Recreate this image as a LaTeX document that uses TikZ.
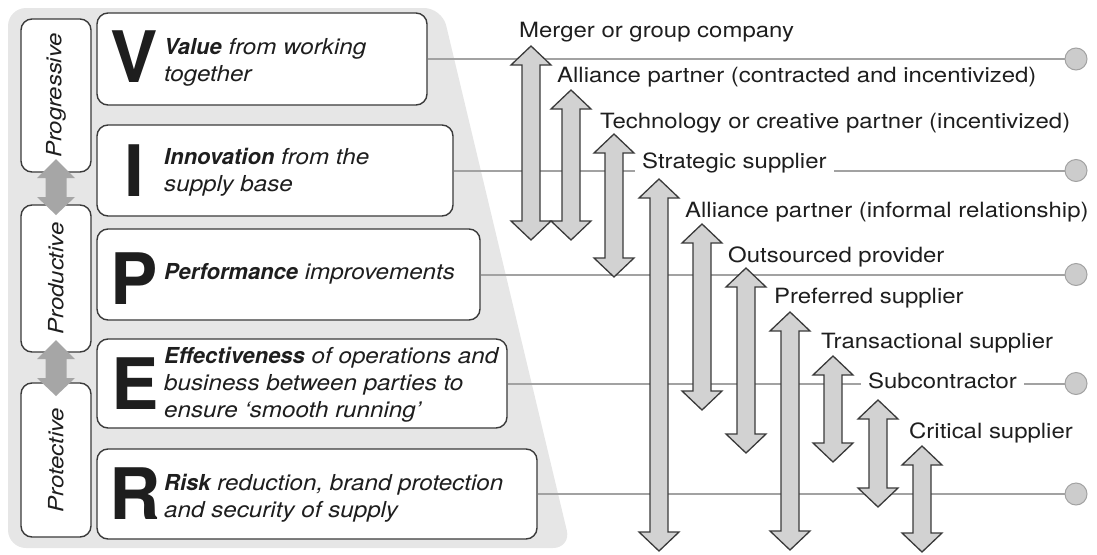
\documentclass[tikz,border=0pt]{standalone}
\usepackage{fontspec}
\setmainfont{TeX Gyre Heros}[FakeStretch=1.14]
\newfontfamily\capfont{TeX Gyre Heros}
\newfontfamily\descfont{TeX Gyre Heros}[FakeStretch=1.1]
\newcommand\kw[1]{{\capfont\bfseries #1}}
\definecolor{panel}{HTML}{E6E6E6}
\definecolor{ink}{HTML}{1E1E1E}
\definecolor{edge}{HTML}{3A3A3A}
\definecolor{linkgray}{HTML}{A2A2A2}
\definecolor{shaftgray}{HTML}{D2D2D2}
\definecolor{swapgray}{HTML}{A6A6A6}
\definecolor{dotgray}{HTML}{CCCCCC}

% vertical double arrow: x, top tip, bottom tip
\newcommand\rangearrow[3]{%
  \draw[rangearr] (#1-20,#2+19) -- (#1,#2) -- (#1+20,#2+19) -- (#1+9,#2+19)
    -- (#1+9,#3-19) -- (#1+20,#3-19) -- (#1,#3) -- (#1-20,#3-19)
    -- (#1-9,#3-19) -- (#1-9,#2+19) -- cycle;}
% thick grey swap arrow between the side labels
\newcommand\swaparrow[3]{%
  \fill[swapgray] (#1-19,#2+19) -- (#1,#2) -- (#1+19,#2+19) -- (#1+10.5,#2+19)
    -- (#1+10.5,#3-18) -- (#1+19,#3-18) -- (#1,#3) -- (#1-19,#3-18)
    -- (#1-10.5,#3-18) -- (#1-10.5,#2+19) -- cycle;}

\begin{document}
\begin{tikzpicture}[x=1pt,y=-1pt,
  panelbox/.style={draw=edge, line width=1.4, fill=white, rounded corners=11, inner sep=0},
  sidebox/.style={draw=edge, line width=1.4, fill=white, rounded corners=11, inner sep=0,
    minimum width=70},
  bigletter/.style={text=ink, inner sep=0, font=\capfont\bfseries\fontsize{71}{71}\selectfont},
  desc/.style={text=ink, inner sep=0, anchor=west, align=left,
    font=\descfont\itshape\fontsize{22}{27}\selectfont},
  sidetext/.style={text=ink, inner sep=0, rotate=90, font=\itshape\fontsize{21}{24}\selectfont},
  tier/.style={text=ink, inner sep=0, anchor=base west, font=\fontsize{21}{24}\selectfont},
  cut/.style={fill=white, inner xsep=7, inner ysep=2.5},
  link/.style={draw=linkgray, line width=2},
  dot/.style={circle, minimum size=22, inner sep=0, fill=dotgray, draw=linkgray, line width=1},
  rangearr/.style={draw=edge, line width=1.3, fill=shaftgray, line join=miter}]
\useasboundingbox (0,0) rectangle (1097,554);

% grey panel behind the VIPER boxes
\fill[panel, rounded corners=18] (8,8) -- (442,8) -- (571,548) -- (8,548) -- cycle;

% side labels
\node[sidebox, minimum height=153] (prog) at (56,95.5) {};
\node[sidebox, minimum height=147] (prod) at (56,278.5) {};
\node[sidebox, minimum height=154] (prot) at (56,460) {};
\node[sidetext] (progt) at (prog.center) {Progressive};
\node[sidetext] (prodt) at (prod.center) {Productive};
\node[sidetext] (prott) at (prot.center) {Protective};
\swaparrow{56}{159}{215}
\swaparrow{56}{340}{396}

% VIPER boxes
\node[panelbox, minimum width=330, minimum height=92] (vbox) at (262,59) {};
\node[panelbox, minimum width=356, minimum height=91] (ibox) at (275,170.5) {};
\node[panelbox, minimum width=383, minimum height=91] (pbox) at (288.5,274.5) {};
\node[panelbox, minimum width=410, minimum height=89] (ebox) at (302,383.5) {};
\node[panelbox, minimum width=440, minimum height=90] (rbox) at (317,494) {};

\node[bigletter] (vl) at (134,57) {V};
\node[bigletter] (il) at (134,171) {I};
\node[bigletter] (pl) at (134,279) {P};
\node[bigletter] (el) at (135,384) {E};
\node[bigletter] (rl) at (135,494) {R};

\node[desc] (vt) at (164,62) {\kw{Value} from working\\together};
\node[desc] (it) at (164,172) {\kw{Innovation} from the\\supply base};
\node[desc] (pt) at (164,274) {\kw{Performance} improvements};
\node[desc] (et) at (164,385) {\kw{Effectiveness} of operations and\\business between parties to\\ensure ‘smooth running’};
\node[desc] (rt) at (164,498) {\kw{Risk} reduction, brand protection\\and security of supply};

% end markers and links
\node[dot] (vend) at (1076,59) {};
\node[dot] (iend) at (1076,170.5) {};
\node[dot] (pend) at (1076,274.5) {};
\node[dot] (eend) at (1076,383.5) {};
\node[dot] (rend) at (1076,494) {};
\draw[link] (vbox.east) -- (vend.west);
\draw[link] (ibox.east) -- (iend.west);
\draw[link] (pbox.east) -- (pend.west);
\draw[link] (ebox.east) -- (eend.west);
\draw[link] (rbox.east) -- (rend.west);

% relationship tiers
\node[tier] (t1) at (519,37) {Merger or group company};
\node[tier] (t2) at (557,82) {Alliance partner (contracted and incentivized)};
\node[tier] (t3) at (600,128) {Technology or creative partner (incentivized)};
\node[tier, cut] (t4) at (635,168) {Strategic supplier};
\node[tier] (t5) at (685,217) {Alliance partner (informal relationship)};
\node[tier] (t6) at (728,262) {Outsourced provider};
\node[tier] (t7) at (774,303) {Preferred supplier};
\node[tier] (t8) at (821,348) {Transactional supplier};
\node[tier, cut] (t9) at (861,388) {Subcontractor};
\node[tier] (t10) at (909,438) {Critical supplier};

\rangearrow{531}{46}{240}
\rangearrow{571}{90}{240}
\rangearrow{614}{134}{277}
\rangearrow{659}{179}{551}
\rangearrow{702}{224}{410}
\rangearrow{746}{268}{453}
\rangearrow{790}{312}{550}
\rangearrow{833}{356}{462}
\rangearrow{878}{400}{507}
\rangearrow{922}{446}{552}
\end{tikzpicture}
\end{document}
